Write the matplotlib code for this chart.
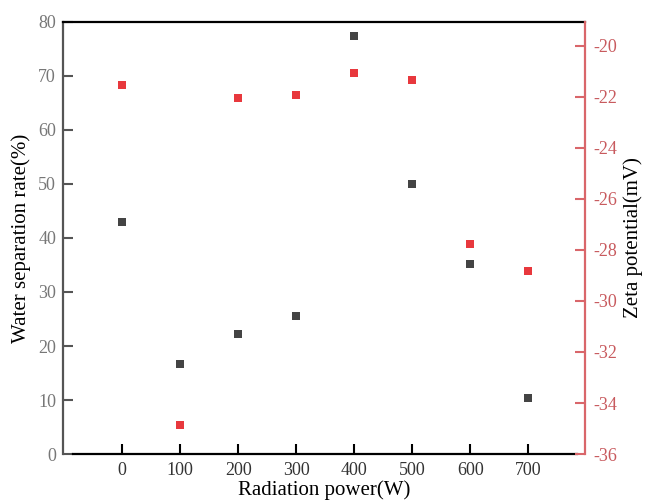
import matplotlib
matplotlib.use("Agg")
import matplotlib.pyplot as plt

power = [0, 100, 200, 300, 400, 500, 600, 700]
separation_rate = [42.9, 16.6, 22.2, 25.6, 77.4, 50.0, 35.1, 10.4]
zeta_potential = [-21.53, -34.86, -22.04, -21.92, -21.06, -21.33, -27.78, -28.82]

xticks = [0, 100, 200, 300, 400, 500, 600, 700]
left_ticks = [0, 10, 20, 30, 40, 50, 60, 70, 80]
right_ticks = [-36, -34, -32, -30, -28, -26, -24, -22, -20]

plt.rcParams['font.family'] = ['Liberation Serif', 'DejaVu Serif']
plt.rcParams['axes.unicode_minus'] = False

RED = '#e8383d'
RED_AX = '#d9666a'
GRAY = '#444444'

fig = plt.figure(figsize=(6.46, 5.03), dpi=100)
ax = fig.add_axes([0.0975, 0.0974, 0.8081, 0.8589])
ax2 = ax.twinx()

ax.scatter(power, separation_rate, marker='s', s=34, color=GRAY, linewidths=0, zorder=3)
ax2.scatter(power, zeta_potential, marker='s', s=34, color=RED, linewidths=0, zorder=3)

ax.set_xlim(-102, 798)
ax.set_ylim(0, 80)
ax2.set_ylim(-36, -19.06)

ax.set_xticks(xticks)
ax.set_yticks(left_ticks)
ax2.set_yticks(right_ticks)

ax.spines['bottom'].set_bounds(-84, 784)
for s in ['top', 'left', 'bottom']:
    ax.spines[s].set_linewidth(1.6)
ax.spines['top'].set_color('black')
ax.spines['bottom'].set_color('black')
ax.spines['left'].set_color('#555555')
ax.spines['right'].set_visible(False)
for s in ['top', 'left', 'bottom']:
    ax2.spines[s].set_visible(False)
ax2.spines['right'].set_color(RED_AX)
ax2.spines['right'].set_linewidth(1.6)

ax.tick_params(axis='x', direction='in', length=7, width=1.5, color='black',
               labelsize=13, labelcolor='#333333', pad=6)
ax.tick_params(axis='y', direction='in', length=7, width=1.5, color='#555555',
               labelsize=13, labelcolor='#777777', pad=5)
ax2.tick_params(axis='y', direction='in', length=7, width=1.5, color=RED_AX,
                labelsize=13, labelcolor='#c85a5e', pad=6)

ax.set_xlabel('Radiation power(W)', fontsize=15, labelpad=1)
ax.set_ylabel('Water separation rate(%)', fontsize=15, labelpad=5)
ax2.set_ylabel('Zeta potential(mV)', fontsize=15, labelpad=4)

fig.savefig('out.png', dpi=100)
